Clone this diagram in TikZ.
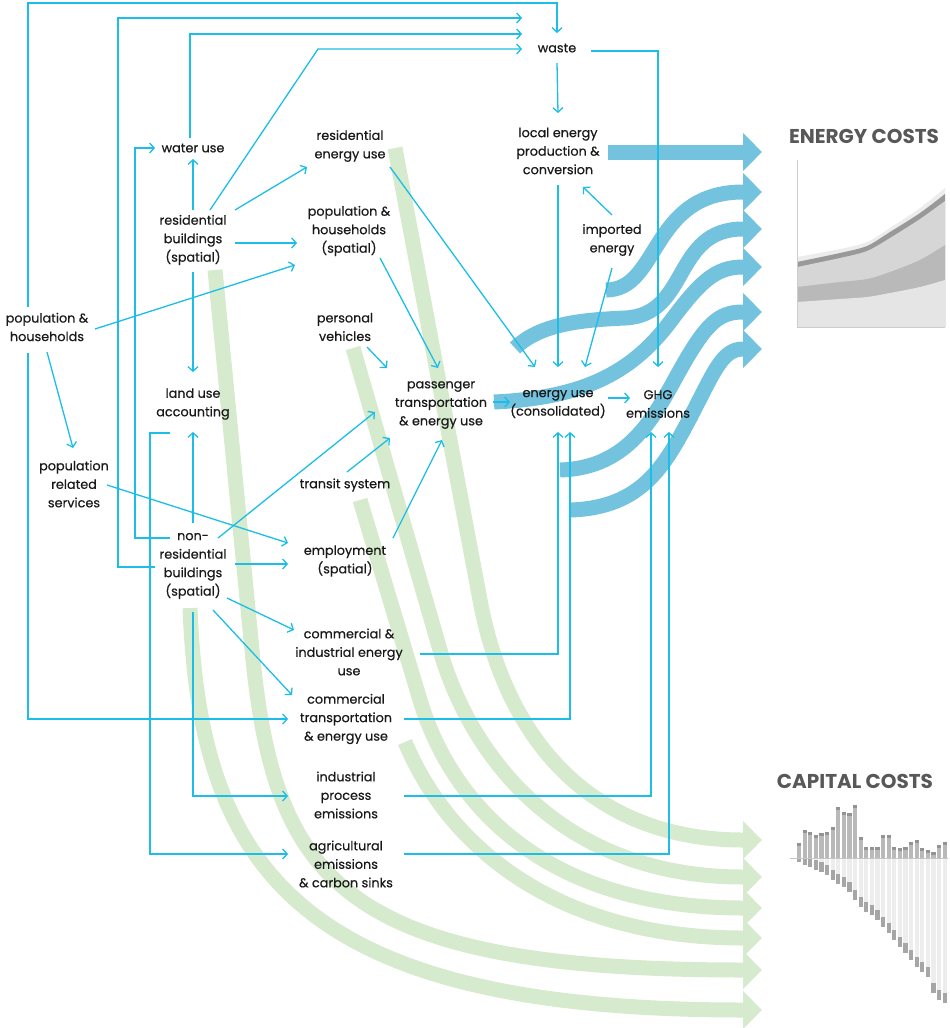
\documentclass[tikz,border=0pt]{standalone}
\usepackage{fontspec}
\setmainfont{Poppins}
\newfontfamily\lblfont{Poppins}[FakeBold=0.5]
\usetikzlibrary{arrows.meta}
\definecolor{flowc}{RGB}{28,190,232}
\definecolor{ecostc}{RGB}{116,195,222}
\definecolor{ccostc}{RGB}{214,234,205}
\definecolor{titlec}{RGB}{88,88,88}
\pgfdeclarelayer{bg}
\pgfsetlayers{bg,main}

\begin{document}
\begin{tikzpicture}[x=1pt,y=-1pt,font=\lblfont\fontsize{12.8}{18.5}\selectfont,
  lbl/.style={align=center,text=black!90},
  ln/.style={flowc,line width=1.3pt,-{Straight Barb[length=4.5pt,width=10pt]}},
  eband/.style={ecostc,line width=15pt,-{Triangle[length=19pt,width=37pt]}},
  cband/.style={ccostc,line width=15pt,-{Triangle[length=19pt,width=37pt]}},
  ttl/.style={font=\rmfamily\fontsize{20}{24}\selectfont\bfseries,text=titlec}]
\useasboundingbox (0,0) rectangle (950,1028);
\node[lbl] (waste) at (557,48) {waste};
\node[lbl] (lep) at (558,151) {local energy\\production \&\\conversion};
\node[lbl] (water) at (193,148) {water use};
\node[lbl] (resen) at (350,146) {residential\\energy use};
\node[lbl] (resb) at (193,240) {residential\\buildings\\(spatial)};
\node[lbl] (pophhs) at (349,231) {population \&\\households\\(spatial)};
\node[lbl] (imp) at (612,240) {imported\\energy};
\node[lbl] (pophh) at (47,327) {population \&\\households};
\node[lbl] (veh) at (345,327) {personal\\vehicles};
\node[lbl] (land) at (193,404) {land use\\accounting};
\node[lbl] (pass) at (441,405) {passenger\\transportation\\\& energy use};
\node[lbl] (euse) at (558,404) {energy use\\(consolidated)};
\node[lbl] (ghg) at (658,404) {GHG\\emissions};
\node[lbl] (popsv) at (74,484) {population\\related\\services};
\node[lbl] (transit) at (345,485) {transit system};
\node[lbl] (nonres) at (193,566) {non-\\residential\\buildings\\(spatial)};
\node[lbl] (empl) at (345,561) {employment\\(spatial)};
\node[lbl] (comen) at (349,652) {commercial \&\\industrial energy\\use};
\node[lbl] (comtr) at (346,719) {commercial\\transportation\\\& energy use};
\node[lbl] (indem) at (346,795) {industrial\\process\\emissions};
\node[lbl] (agri) at (346,864) {agricultural\\emissions\\\& carbon sinks};
\node[ttl] (etitle) at (864,136) {ENERGY COSTS};
\node[ttl] (ctitle) at (855,781) {CAPITAL COSTS};

\draw[ln] ([shift={(-19,-20)}]pophh.center) |- ([shift={(0,-45)}]waste.center) -- ([shift={(0,-15)}]waste.center);
\draw[ln] ([shift={(-19,26)}]pophh.center) |- ([shift={(-58,0)}]comtr.center);
\draw[ln] ([shift={(-38,1)}]nonres.center) -- ++(-37,0) |- ([shift={(-35,-30)}]waste.center);
\draw[ln] ([shift={(-3,-10)}]water.center) |- ([shift={(-35,-14)}]waste.center);
\draw[ln] ([shift={(17,-30)}]resb.center) -- ++(108,-161) -- ([shift={(-35,1)}]waste.center);
\draw[ln] ([shift={(-23,-28)}]nonres.center) -- ++(-35,0) |- ([shift={(-38,0)}]water.center);
\draw[ln] ([shift={(-23,29)}]land.center) -- ++(-20,0) |- ([shift={(-58,-10)}]agri.center);
\draw[ln] ([shift={(0,46)}]nonres.center) |- ([shift={(-58,1)}]indem.center);
\draw[ln] ([shift={(0,-43)}]nonres.center) -- ([shift={(0,28)}]land.center);
\draw[ln] ([shift={(0,32)}]resb.center) -- ([shift={(0,-32)}]land.center);
\draw[ln] ([shift={(0,-30)}]resb.center) -- ([shift={(0,11)}]water.center);
\draw[ln] ([shift={(42,-30)}]resb.center) -- ([shift={(-43,21)}]resen.center);
\draw[ln] ([shift={(42,3)}]resb.center) -- ([shift={(-52,12)}]pophhs.center);
\draw[ln] ([shift={(48,2)}]pophh.center) -- ([shift={(-54,34)}]pophhs.center);
\draw[ln] ([shift={(0,25)}]pophh.center) -- ([shift={(-1,-36)}]popsv.center);
\draw[ln] ([shift={(33,1)}]popsv.center) -- ([shift={(-57,-18)}]empl.center);
\draw[ln] ([shift={(42,-2)}]nonres.center) -- ([shift={(-57,3)}]empl.center);
\draw[ln] ([shift={(25,-28)}]nonres.center) -- ([shift={(-66,7)}]pass.center);
\draw[ln] ([shift={(2,-13)}]transit.center) -- ([shift={(-51,33)}]pass.center);
\draw[ln] ([shift={(48,-23)}]empl.center) -- ([shift={(1,35)}]pass.center);
\draw[ln] ([shift={(22,20)}]veh.center) -- ([shift={(-54,-37)}]pass.center);
\draw[ln] ([shift={(31,27)}]pophhs.center) -- ([shift={(-3,-37)}]pass.center);
\draw[ln] ([shift={(40,21)}]resen.center) -- ([shift={(-23,-37)}]euse.center);
\draw[ln] ([shift={(0,34)}]lep.center) -- ([shift={(0,-37)}]euse.center);
\draw[ln] ([shift={(0,-25)}]imp.center) -- ([shift={(25,36)}]lep.center);
\draw[ln] ([shift={(0,28)}]imp.center) -- ([shift={(27,-37)}]euse.center);
\draw[ln] ([shift={(0,15)}]waste.center) -- ([shift={(0,-38)}]lep.center);
\draw[ln] ([shift={(34,3)}]waste.center) -| ([shift={(0,-37)}]ghg.center);
\draw[ln] ([shift={(52,-3)}]pass.center) -- ([shift={(-48,-2)}]euse.center);
\draw[ln] ([shift={(50,-6)}]euse.center) -- ([shift={(-28,-6)}]ghg.center);
\draw[ln] ([shift={(71,2)}]comen.center) -| ([shift={(0,28)}]euse.center);
\draw[ln] ([shift={(58,0)}]comtr.center) -| ([shift={(12,28)}]euse.center);
\draw[ln] ([shift={(58,1)}]indem.center) -| ([shift={(-7,28)}]ghg.center);
\draw[ln] ([shift={(58,-10)}]agri.center) -| ([shift={(11,28)}]ghg.center);
\draw[ln] ([shift={(34,32)}]nonres.center) -- ([shift={(-55,-22)}]comen.center);
\draw[ln] ([shift={(20,44)}]nonres.center) -- ([shift={(-54,-24)}]comtr.center);

\begin{pgfonlayer}{bg}
\draw[cband] (395,148) -- (480,600) .. controls (508,750) and (600,840) .. (743,840) -- (762,840);
\draw[cband] (353,348) -- (440,650) .. controls (470,755) and (560,877) .. (743,877) -- (762,877);
\draw[cband] (360,500) -- (420,700) .. controls (450,800) and (540,908) .. (743,908) -- (762,908);
\draw[cband] (405,742) .. controls (450,850) and (560,938) .. (743,938) -- (762,938);
\draw[cband] (215,270) -- (252,650) .. controls (274,880) and (340,970) .. (743,970) -- (762,970);
\draw[cband] (190,608) .. controls (200,870) and (300,1010) .. (743,1010) -- (762,1010);
\draw[eband] (608,152) -- (762,152);
\draw[eband] (606,290) .. controls (660,290) and (650,192) .. (743,192) -- (762,192);
\draw[eband] (515,348) .. controls (540,324) and (580,320) .. (625,318) .. controls (690,315) and (672,229) .. (743,229) -- (762,229);
\draw[eband] (494,402) .. controls (580,398) and (630,375) .. (670,322) .. controls (700,282) and (715,267) .. (743,267) -- (762,267);
\draw[eband] (560,470) .. controls (630,468) and (655,415) .. (680,370) .. controls (706,324) and (718,312) .. (743,312) -- (762,312);
\draw[eband] (570,510) .. controls (642,508) and (665,465) .. (690,418) .. controls (714,372) and (722,349) .. (743,349) -- (762,349);
\fill[gray!15] plot[smooth] coordinates {(797,257) (840,249) (867,242) (890,228) (920,208) (945,188)} -- (945,327) -- (797,327) -- cycle;
\fill[gray!80] plot[smooth] coordinates {(797,262) (840,253) (867,246) (890,232) (920,213) (945,194)} -- (945,327) -- (797,327) -- cycle;
\fill[gray!32] plot[smooth] coordinates {(797,267) (840,258) (867,251) (890,238) (920,219) (945,201)} -- (945,327) -- (797,327) -- cycle;
\fill[gray!55] plot[smooth] coordinates {(797,287) (840,282) (867,279) (890,272) (920,260) (945,245)} -- (945,327) -- (797,327) -- cycle;
\fill[gray!20] plot[smooth] coordinates {(797,302) (840,299) (867,297) (890,293) (920,287) (945,280)} -- (945,327) -- (797,327) -- cycle;
\draw[gray!40,line width=.6pt] (797,160) -- (797,327) -- (945,327);
\foreach \t/\b [count=\i from 0] in {843/862,830/865,832/867,835/870,833/872,832/875,827/880,807/884,812/887,813/892,805/900,837/907,847/912,847/915,847/920,835/927,835/933,847/940,848/947,847/953,842/960,840/967,848/972,850/977,852/993,845/1000,842/1003}{
  \pgfmathsetmacro\bx{797+5.6*\i}
  \fill[gray!14] (\bx,858) rectangle (\bx+4.2,\b);
  \fill[gray!70] (\bx,\b-10) rectangle (\bx+4.2,\b);
  \fill[gray!55] (\bx,858) rectangle (\bx+4.2,\t);
  \fill[gray!85] (\bx,\t) rectangle (\bx+4.2,\t+3);
}
\draw[gray!45,line width=.6pt] (790,858) -- (948,858);
\end{pgfonlayer}
\end{tikzpicture}
\end{document}
